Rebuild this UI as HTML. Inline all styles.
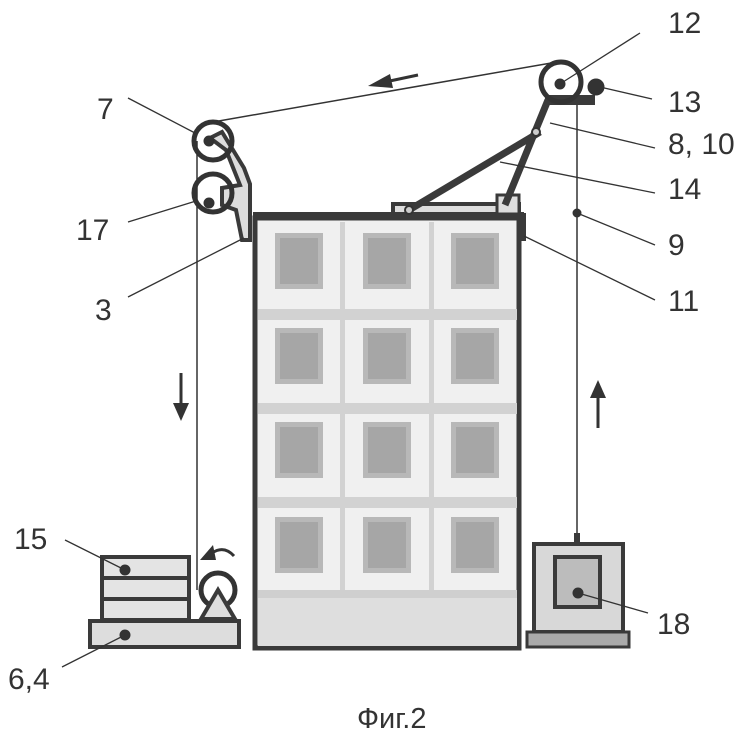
<!DOCTYPE html>
<html><head><meta charset="utf-8"><style>
html,body{margin:0;padding:0;background:#fff}
svg{display:block}
text{font-family:"Liberation Sans",sans-serif;font-size:30px;fill:#333}
</style></head><body>
<svg width="753" height="747" viewBox="0 0 753 747" xmlns="http://www.w3.org/2000/svg">
<g stroke="#333" fill="none">
<rect x="255" y="218" width="264" height="430" fill="#f0f0f0" stroke="#3a3a3a" stroke-width="5"/>
<g stroke="none" fill="#d2d2d2">
<rect x="340" y="222" width="5" height="374"/>
<rect x="429" y="222" width="5" height="374"/>
<rect x="258" y="309" width="259" height="11"/>
<rect x="258" y="403" width="259" height="11"/>
<rect x="258" y="497" width="259" height="11"/>
<rect x="258" y="590" width="259" height="56" fill="#dedede"/>
<rect x="258" y="590" width="259" height="8" fill="#cfcfcf"/>
</g>
<g stroke="none">
<g fill="#b8b8b8">
<rect x="275" y="233" width="48" height="56"/><rect x="363" y="233" width="48" height="56"/><rect x="451" y="233" width="48" height="56"/>
<rect x="275" y="328" width="48" height="56"/><rect x="363" y="328" width="48" height="56"/><rect x="451" y="328" width="48" height="56"/>
<rect x="275" y="422" width="48" height="56"/><rect x="363" y="422" width="48" height="56"/><rect x="451" y="422" width="48" height="56"/>
<rect x="275" y="517" width="48" height="56"/><rect x="363" y="517" width="48" height="56"/><rect x="451" y="517" width="48" height="56"/>
</g>
<g fill="#a6a6a6">
<rect x="280" y="238" width="38" height="46"/><rect x="368" y="238" width="38" height="46"/><rect x="456" y="238" width="38" height="46"/>
<rect x="280" y="333" width="38" height="46"/><rect x="368" y="333" width="38" height="46"/><rect x="456" y="333" width="38" height="46"/>
<rect x="280" y="427" width="38" height="46"/><rect x="368" y="427" width="38" height="46"/><rect x="456" y="427" width="38" height="46"/>
<rect x="280" y="522" width="38" height="46"/><rect x="368" y="522" width="38" height="46"/><rect x="456" y="522" width="38" height="46"/>
</g>
</g>
<rect x="253" y="212" width="271" height="8" fill="#3a3a3a" stroke="none"/>
<rect x="518" y="213" width="8" height="28" fill="#3a3a3a" stroke="none"/>
<path d="M210 138 L222 132 L244 168 L250 184 L250 240 L242 240 L236 210 L222 205 L222 188 L240 185 L226 150 Z" fill="#ddd" stroke="#3a3a3a" stroke-width="4"/>
<circle cx="213" cy="141" r="19" stroke-width="5"/>
<circle cx="213" cy="193" r="19" stroke-width="5"/>
<circle cx="209" cy="141" r="5" fill="#333"/>
<circle cx="209" cy="203" r="5" fill="#333"/>
<line x1="213" y1="122" x2="557" y2="62" stroke-width="1.5"/>
<line x1="197" y1="141" x2="197" y2="590" stroke-width="1.5"/>
<line x1="577" y1="96" x2="577" y2="535" stroke-width="1.5"/>
<circle cx="577" cy="213" r="4" fill="#333"/>
<rect x="393" y="204" width="126" height="10" fill="#ddd" stroke="#3a3a3a" stroke-width="4"/>
<rect x="497" y="195" width="22" height="19" fill="#ddd" stroke="#3a3a3a" stroke-width="3"/>
<line x1="409" y1="210" x2="540" y2="132" stroke="#3a3a3a" stroke-width="7"/>
<line x1="505" y1="205" x2="548" y2="100" stroke="#3a3a3a" stroke-width="7"/>
<circle cx="409" cy="210" r="4" fill="#ccc" stroke-width="2"/>
<circle cx="536" cy="132" r="4" fill="#ccc" stroke-width="2"/>
<rect x="545" y="95" width="50" height="10" fill="#3a3a3a" stroke="none"/>
<circle cx="561" cy="82" r="20" stroke-width="5"/>
<circle cx="560" cy="84" r="5" fill="#333"/>
<circle cx="596" cy="87" r="8" fill="#333"/>
<line x1="418" y1="75" x2="385" y2="82" stroke-width="3"/>
<path d="M368 86 L390 74 L393 88 Z" fill="#333" stroke="none"/>
<line x1="181" y1="373" x2="181" y2="405" stroke-width="3"/>
<path d="M173 403 L189 403 L181 421 Z" fill="#333" stroke="none"/>
<line x1="598" y1="428" x2="598" y2="396" stroke-width="3"/>
<path d="M590 398 L606 398 L598 380 Z" fill="#333" stroke="none"/>
<rect x="102" y="557" width="87" height="21" fill="#e4e4e4" stroke="#3a3a3a" stroke-width="4"/>
<rect x="102" y="578" width="87" height="21" fill="#e4e4e4" stroke="#3a3a3a" stroke-width="4"/>
<rect x="102" y="599" width="87" height="21" fill="#e4e4e4" stroke="#3a3a3a" stroke-width="4"/>
<rect x="90" y="621" width="149" height="26" fill="#ddd" stroke="#3a3a3a" stroke-width="4"/>
<circle cx="125" cy="570" r="5" fill="#333"/>
<circle cx="125" cy="635" r="5" fill="#333"/>
<circle cx="218" cy="590" r="17" stroke-width="5" fill="#fff"/>
<path d="M201 619 L218 590 L235 619 Z" fill="#ddd" stroke="#3a3a3a" stroke-width="4"/>
<path d="M234 556 Q224 545 212 553" stroke-width="3"/>
<path d="M200 560 L213 545 L216 560 Z" fill="#333" stroke="none"/>
<rect x="534" y="544" width="89" height="88" fill="#d8d8d8" stroke="#3a3a3a" stroke-width="4"/>
<rect x="555" y="557" width="45" height="50" fill="#bcbcbc" stroke="#3a3a3a" stroke-width="4"/>
<rect x="527" y="632" width="102" height="15" fill="#aaa" stroke="#3a3a3a" stroke-width="3"/>
<rect x="574" y="533" width="6" height="11" fill="#3a3a3a" stroke="none"/>
<circle cx="578" cy="593" r="5" fill="#333"/>
<g stroke-width="1.3">
<line x1="563" y1="82" x2="640" y2="33"/>
<line x1="600" y1="87" x2="652" y2="99"/>
<line x1="550" y1="123" x2="655" y2="148"/>
<line x1="500" y1="162" x2="655" y2="193"/>
<line x1="577" y1="213" x2="655" y2="245"/>
<line x1="524" y1="236" x2="655" y2="300"/>
<line x1="195" y1="133" x2="128" y2="98"/>
<line x1="196" y1="201" x2="128" y2="222"/>
<line x1="244" y1="238" x2="128" y2="297"/>
<line x1="125" y1="570" x2="65" y2="540"/>
<line x1="125" y1="635" x2="62" y2="667"/>
<line x1="578" y1="593" x2="648" y2="613"/>
</g>
</g>
<text x="668" y="33">12</text>
<text x="668" y="112">13</text>
<text x="668" y="154">8, 10</text>
<text x="668" y="199">14</text>
<text x="668" y="255">9</text>
<text x="668" y="311">11</text>
<text x="97" y="119">7</text>
<text x="76" y="240">17</text>
<text x="95" y="320">3</text>
<text x="14" y="549">15</text>
<text x="8" y="689">6,4</text>
<text x="657" y="634">18</text>
<text x="357" y="728" style="font-size:29px">Фиг.2</text>
</svg>
</body></html>
